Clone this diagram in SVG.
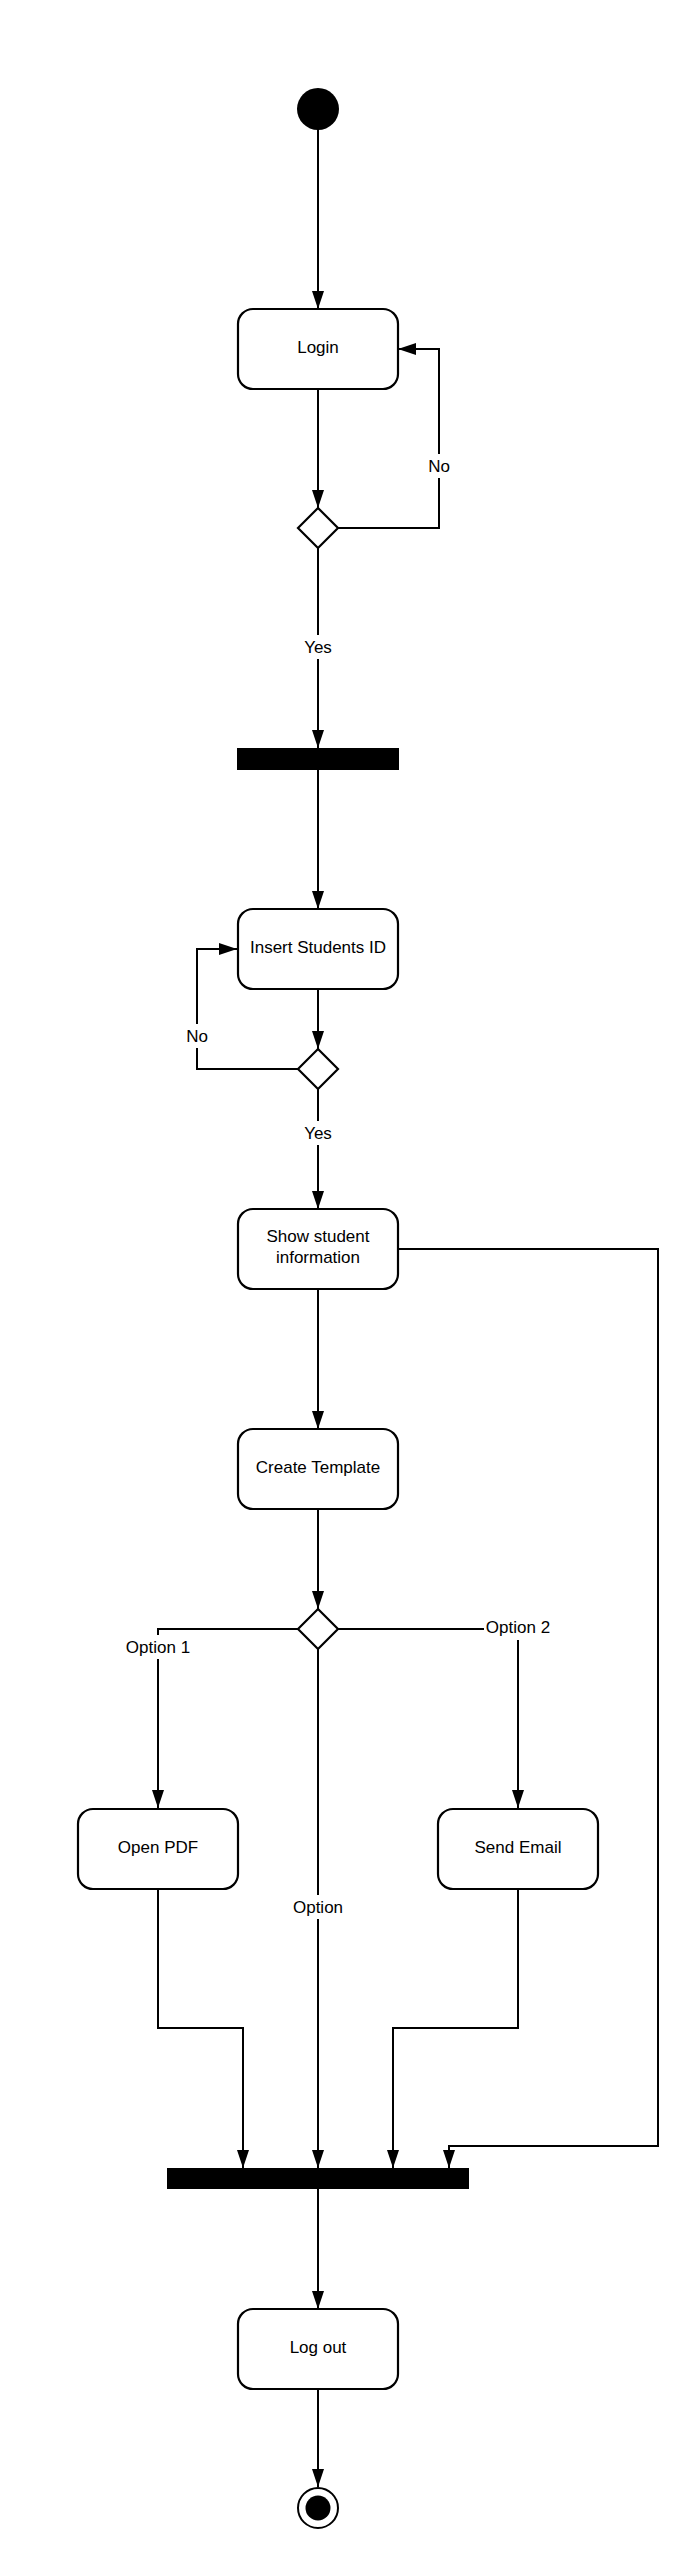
<svg xmlns="http://www.w3.org/2000/svg" width="699" height="2569" viewBox="0 0 699 2569">
<defs>
<style>
.box{fill:#fff;stroke:#000;stroke-width:2.2}
.dia{fill:#fff;stroke:#000;stroke-width:2.2}
.bar{fill:#000}
.t{font-family:"Liberation Sans",Arial,sans-serif;font-size:17px;fill:#000;text-anchor:middle}
.c{fill:none;stroke:#000;stroke-width:2;marker-end:url(#ah)}
.cn{fill:none;stroke:#000;stroke-width:2}
.lb{fill:#fff}
</style>
<marker id="ah" viewBox="0 0 18 12" refX="18" refY="6" markerWidth="18" markerHeight="12" markerUnits="userSpaceOnUse" orient="auto">
<path d="M0,0 L18,6 L0,12 z" fill="#000"/>
</marker>
</defs>
<rect width="699" height="2569" fill="#fff"/>
<g id="connectors">
<path class="c" d="M318,130 L318,309"/>
<path class="c" d="M318,389 L318,508"/>
<path class="c" d="M338,528 L439,528 L439,349 L398,349"/>
<path class="c" d="M318,548 L318,748"/>
<path class="c" d="M318,770 L318,909"/>
<path class="c" d="M318,989 L318,1049"/>
<path class="c" d="M298,1069 L197,1069 L197,949 L237,949"/>
<path class="c" d="M318,1089 L318,1209"/>
<path class="c" d="M318,1289 L318,1429"/>
<path class="c" d="M398,1249 L658,1249 L658,2146 L449,2146 L449,2168"/>
<path class="c" d="M318,1509 L318,1609"/>
<path class="c" d="M298,1629 L158,1629 L158,1808"/>
<path class="c" d="M338,1629 L518,1629 L518,1808"/>
<path class="c" d="M318,1649 L318,2168"/>
<path class="c" d="M158,1889 L158,2028 L243,2028 L243,2168"/>
<path class="c" d="M518,1889 L518,2028 L393,2028 L393,2168"/>
<path class="c" d="M318,2189 L318,2309"/>
<path class="c" d="M318,2389 L318,2487"/>
<g id="labels">
<rect class="lb" x="426" y="454" width="26" height="24"/>
<text class="t" x="439" y="472">No</text>
<rect class="lb" x="302" y="635" width="32" height="24"/>
<text class="t" x="318" y="653">Yes</text>
<rect class="lb" x="184" y="1024" width="26" height="24"/>
<text class="t" x="197" y="1042">No</text>
<rect class="lb" x="302" y="1121" width="32" height="24"/>
<text class="t" x="318" y="1139">Yes</text>
<rect class="lb" x="123" y="1635" width="70" height="24"/>
<text class="t" x="158" y="1653">Option 1</text>
<rect class="lb" x="484" y="1615" width="68" height="25"/>
<text class="t" x="518" y="1633">Option 2</text>
<rect class="lb" x="291" y="1895" width="54" height="24"/>
<text class="t" x="318" y="1913">Option</text>
</g>
</g>
<g id="start"><circle cx="318" cy="109" r="21" fill="#000"/></g>
<g id="login"><rect class="box" x="238" y="309" width="160" height="80" rx="15"/><text class="t" x="318" y="353">Login</text></g>
<g id="decision1"><path class="dia" d="M318,508 L338,528 L318,548 L298,528 z"/></g>
<g id="fork1"><rect class="bar" x="237" y="748" width="162" height="22"/></g>
<g id="insert"><rect class="box" x="238" y="909" width="160" height="80" rx="15"/><text class="t" x="318" y="953">Insert Students ID</text></g>
<g id="decision2"><path class="dia" d="M318,1049 L338,1069 L318,1089 L298,1069 z"/></g>
<g id="show"><rect class="box" x="238" y="1209" width="160" height="80" rx="15"/><text class="t" x="318" y="1242">Show student</text><text class="t" x="318" y="1263">information</text></g>
<g id="create"><rect class="box" x="238" y="1429" width="160" height="80" rx="15"/><text class="t" x="318" y="1473">Create Template</text></g>
<g id="decision3"><path class="dia" d="M318,1609 L338,1629 L318,1649 L298,1629 z"/></g>
<g id="openpdf"><rect class="box" x="78" y="1809" width="160" height="80" rx="15"/><text class="t" x="158" y="1853">Open PDF</text></g>
<g id="sendemail"><rect class="box" x="438" y="1809" width="160" height="80" rx="15"/><text class="t" x="518" y="1853">Send Email</text></g>
<g id="join"><rect class="bar" x="167" y="2168" width="302" height="21"/></g>
<g id="logout"><rect class="box" x="238" y="2309" width="160" height="80" rx="15"/><text class="t" x="318" y="2353">Log out</text></g>
<g id="end"><circle cx="318" cy="2508" r="20" fill="#fff" stroke="#000" stroke-width="2"/><circle cx="318" cy="2508" r="12.5" fill="#000"/></g>
</svg>
